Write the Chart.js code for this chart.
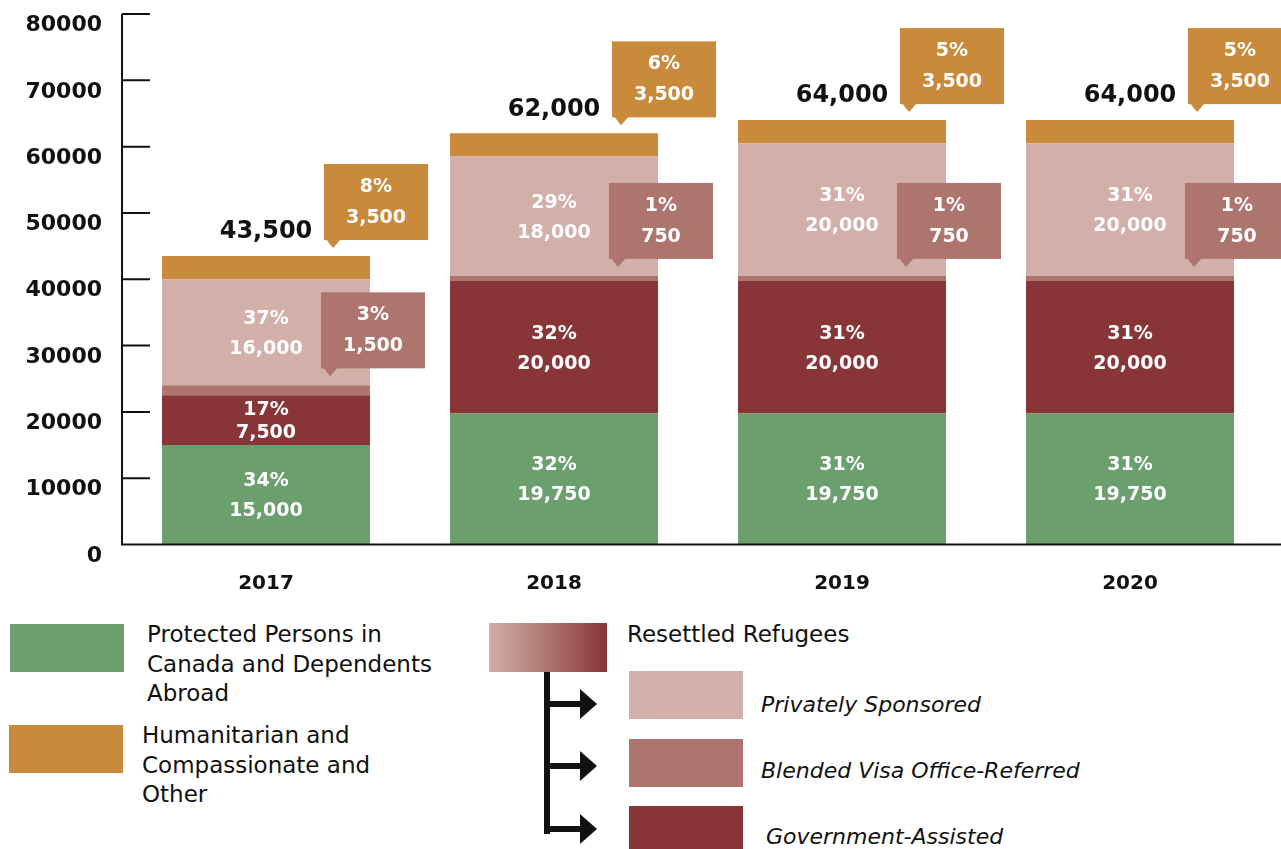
<!DOCTYPE html>
<html>
<head>
<meta charset="utf-8">
<script src="https://cdn.jsdelivr.net/npm/chart.js@4.4.1/dist/chart.umd.min.js"></script>
<style>
  body { margin: 0; background: #fff; width: 1281px; height: 849px; overflow: hidden; position: relative;
         font-family: "DejaVu Sans", sans-serif; color: #111; }
  #chartBox { position: absolute; left: 0; top: 0; width: 1281px; height: 600px; }
  .sw { position: absolute; width: 114px; height: 48px; }
  .lt { position: absolute; font-size: 23px; line-height: 29.5px; white-space: nowrap; }
  .it { position: absolute; font-size: 22px; line-height: 29.5px; font-style: italic; white-space: nowrap; }
</style>
</head>
<body>
<div id="chartBox"><canvas id="myChart" width="1281" height="600"></canvas></div>

<!-- legenda -->
<div class="sw" style="left:10px; top:624px; background:#6B9F6D"></div>
<div class="lt" style="left:147px; top:620px">Protected Persons in<br>Canada and Dependents<br>Abroad</div>
<div class="sw" style="left:9px; top:725px; background:#C98A3C"></div>
<div class="lt" style="left:142px; top:721px">Humanitarian and<br>Compassionate and<br>Other</div>

<div class="sw" style="left:489px; top:623px; width:118px; height:49px; background:linear-gradient(to right, #D2AFA8, #AE756E 50%, #883538)"></div>
<div class="lt" style="left:627px; top:620px">Resettled Refugees</div>
<svg style="position:absolute; left:540px; top:670px" width="70" height="175">
  <rect x="4" y="2" width="6" height="162" fill="#111"/>
  <rect x="4" y="31" width="40" height="6" fill="#111"/>
  <polygon points="40,19 57,34 40,49" fill="#111"/>
  <rect x="4" y="93" width="40" height="6" fill="#111"/>
  <polygon points="40,81 57,96 40,111" fill="#111"/>
  <rect x="4" y="156" width="40" height="6" fill="#111"/>
  <polygon points="40,144 57,159 40,174" fill="#111"/>
</svg>
<div class="sw" style="left:629px; top:671px; background:#D2AFA8"></div>
<div class="it" style="left:761px; top:690px">Privately Sponsored</div>
<div class="sw" style="left:629px; top:739px; background:#AE756E"></div>
<div class="it" style="left:761px; top:756px">Blended Visa Office-Referred</div>
<div class="sw" style="left:629px; top:806px; background:#883538"></div>
<div class="it" style="left:766px; top:822px">Government-Assisted</div>

<script>
// Dane wykresu
const years = ["2017", "2018", "2019", "2020"];
const protectedPersons = [15000, 19750, 19750, 19750];
const governmentAssisted = [7500, 20000, 20000, 20000];
const blendedVisa = [1500, 750, 750, 750];
const privatelySponsored = [16000, 18000, 20000, 20000];
const humanitarian = [3500, 3500, 3500, 3500];
const yTicks = [0, 10000, 20000, 30000, 40000, 50000, 60000, 70000, 80000];

const numFont = '"DejaVu Sans", sans-serif';

function fmt(v) {
  return v.toLocaleString("en-US");
}

function stackTotal(i) {
  return protectedPersons[i] + governmentAssisted[i] + blendedVisa[i] +
    privatelySponsored[i] + humanitarian[i];
}

// dymek z trojkatem na dole po lewej
function drawCallout(ctx, left, bottom, color, pct, val) {
  const w = 104, h = 76;
  ctx.fillStyle = color;
  ctx.fillRect(left, bottom - h, w, h);
  ctx.beginPath();
  ctx.moveTo(left + 2, bottom - 1);
  ctx.lineTo(left + 17, bottom - 1);
  ctx.lineTo(left + 9, bottom + 8);
  ctx.closePath();
  ctx.fill();
  ctx.fillStyle = "#fff";
  ctx.font = "bold 19px " + numFont;
  ctx.textAlign = "center";
  ctx.textBaseline = "middle";
  ctx.fillText(pct, left + w / 2, bottom - h + 23);
  ctx.fillText(val, left + w / 2, bottom - h + 54);
}

const overlayPlugin = {
  id: "overlay",
  afterDatasetsDraw(chart) {
    const ctx = chart.ctx;
    const y = chart.scales.y;
    const area = chart.chartArea;
    ctx.save();

    // osie i znaczniki
    ctx.strokeStyle = "#111";
    ctx.lineWidth = 2;
    const y0 = y.getPixelForValue(0);
    ctx.beginPath();
    ctx.moveTo(area.left, y.getPixelForValue(80000));
    ctx.lineTo(area.left, y0 + 1);
    ctx.moveTo(area.left, y0);
    ctx.lineTo(chart.width, y0);
    y.ticks.forEach((t) => {
      const py = y.getPixelForValue(t.value);
      ctx.moveTo(area.left, py);
      ctx.lineTo(area.left + 28, py);
    });
    ctx.stroke();

    const metas = [0, 1, 2, 3, 4].map((d) => chart.getDatasetMeta(d));

    years.forEach((yr, i) => {
      const total = stackTotal(i);
      // etykiety wewnatrz slupkow
      [0, 1, 3].forEach((d) => {
        const bar = metas[d].data[i];
        const v = chart.data.datasets[d].data[i];
        const h = bar.base - bar.y;
        const c = (bar.base + bar.y) / 2 + 1.5;
        const half = Math.min(15, h * 0.23);
        ctx.fillStyle = "#fff";
        ctx.font = "bold 19px " + numFont;
        ctx.textAlign = "center";
        ctx.textBaseline = "middle";
        ctx.fillText(Math.round((v / total) * 100) + "%", bar.x, c - half);
        ctx.fillText(fmt(v), bar.x, c + half);
      });

      // dymki
      const bl = metas[2].data[i];
      const blRight = bl.x + bl.width / 2;
      drawCallout(ctx, blRight - 49, bl.y - 17, "#AE756E",
        Math.round((blendedVisa[i] / total) * 100) + "%", fmt(blendedVisa[i]));
      const hu = metas[4].data[i];
      const huRight = hu.x + hu.width / 2;
      drawCallout(ctx, huRight - 46, hu.y - 16, "#C98A3C",
        Math.round((humanitarian[i] / total) * 100) + "%", fmt(humanitarian[i]));

      // suma nad slupkiem
      ctx.fillStyle = "#111";
      ctx.font = "bold 24px " + numFont;
      ctx.textAlign = "center";
      ctx.textBaseline = "middle";
      ctx.fillText(fmt(total), hu.x, hu.y - 24);
    });

    ctx.restore();
  },
};

const ctx = document.getElementById("myChart").getContext("2d");

const myChart = new Chart(ctx, {
  type: "bar",
  data: {
    labels: years,
    datasets: [
      { label: "Protected Persons in Canada and Dependents Abroad", data: protectedPersons, backgroundColor: "#6B9F6D" },
      { label: "Government-Assisted", data: governmentAssisted, backgroundColor: "#883538" },
      { label: "Blended Visa Office-Referred", data: blendedVisa, backgroundColor: "#AE756E" },
      { label: "Privately Sponsored", data: privatelySponsored, backgroundColor: "#D2AFA8" },
      { label: "Humanitarian and Compassionate and Other", data: humanitarian, backgroundColor: "#C98A3C" },
    ],
  },
  options: {
    responsive: false,
    animation: false,
    layout: { padding: { left: 0, top: 14, right: 7, bottom: 0 } },
    datasets: {
      bar: { categoryPercentage: 1, barPercentage: 0.7222, borderWidth: 0 },
    },
    plugins: {
      legend: { display: false },
      tooltip: { enabled: false },
    },
    scales: {
      x: {
        stacked: true,
        grid: { display: false, drawTicks: false },
        border: { display: false },
        ticks: {
          color: "#111",
          padding: 27,
          font: { family: numFont, size: 20, weight: "bold" },
        },
        afterFit(scale) {
          scale.height = 55.5;
          scale.paddingLeft = 0;
          scale.paddingRight = 0;
        },
      },
      y: {
        stacked: true,
        min: 0,
        max: 80000,
        afterBuildTicks(scale) {
          scale.ticks = yTicks.map((v) => ({ value: v }));
        },
        grid: { display: false, drawTicks: false },
        border: { display: false },
        ticks: {
          color: "#111",
          padding: 20,
          labelOffset: 11.5,
          font: { family: numFont, size: 22, weight: "bold" },
          callback: (v) => String(v),
        },
        afterFit(scale) {
          scale.width = 122;
          scale.paddingTop = 0;
          scale.paddingBottom = 0;
        },
      },
    },
  },
  plugins: [overlayPlugin],
});
</script>
</body>
</html>
